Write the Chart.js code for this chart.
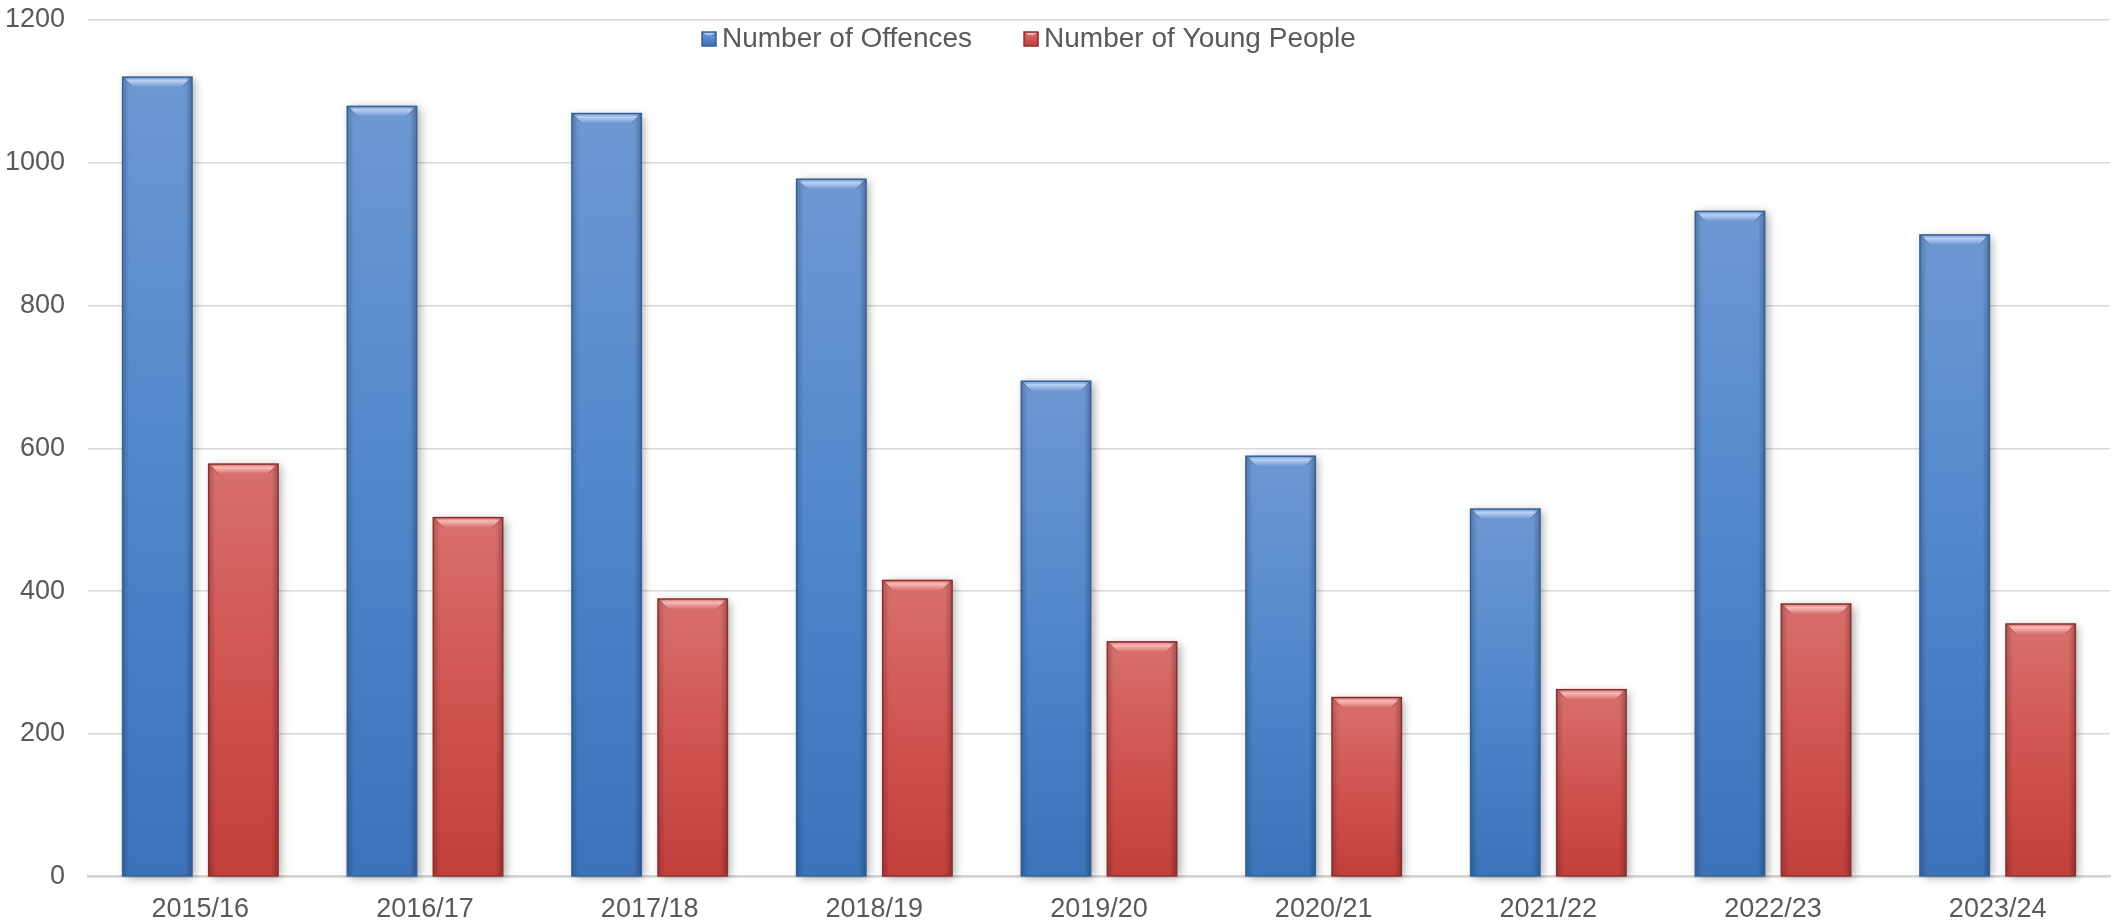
<!DOCTYPE html>
<html>
<head>
<meta charset="utf-8">
<script src="https://cdn.jsdelivr.net/npm/chart.js@4.4.1/dist/chart.umd.min.js"></script>
<style>
  html, body { margin: 0; padding: 0; background: #fff; }
  canvas { display: block; }
</style>
</head>
<body>
<canvas id="offenceChart" width="2121" height="924"></canvas>
<script>
/* Data */
const years = ['2015/16', '2016/17', '2017/18', '2018/19', '2019/20', '2020/21', '2021/22', '2022/23', '2023/24'];
const offences = [1120, 1079, 1069, 977, 694, 589, 515, 932, 899];
const youngPeople = [578, 503, 389, 415, 329, 251, 262, 382, 354];
const yTicks = [0, 200, 400, 600, 800, 1000, 1200];

const FONT = '"Liberation Sans", Arial, sans-serif';
const TEXT = '#595959';

// colours: [top, middle, bottom, bevel light, edge, bevel dark]
const blue = ['#6d98d2', '#5087cb', '#3c72b9', '#b8d0f3', '#35619a', '#4f7cbb'];
const red = ['#d8706d', '#d05451', '#c13f3c', '#f7bab7', '#8e2f2d', '#b94f4c'];

// vertical gradient for each bar, worked out from the y scale
function barFill(cols) {
    return (ctx) => {
        const chart = ctx.chart;
        if (!chart.chartArea || ctx.raw == null) return cols[1];
        const ys = chart.scales.y;
        const top = ys.getPixelForValue(ctx.raw);
        const bottom = ys.getPixelForValue(0);
        const g = chart.ctx.createLinearGradient(0, top, 0, bottom);
        g.addColorStop(0, cols[0]);
        g.addColorStop(0.5, cols[1]);
        g.addColorStop(1, cols[2]);
        return g;
    };
}

function bevelBox(c, l, t, w, h, cols, b) {
    let g = c.createLinearGradient(0, t, 0, t + b);
    g.addColorStop(0, cols[0]);
    g.addColorStop(0.35, cols[3]);
    g.addColorStop(1, cols[0]);
    c.fillStyle = g;
    c.beginPath();
    c.moveTo(l, t);
    c.lineTo(l + w, t);
    c.lineTo(l + w - b, t + b);
    c.lineTo(l + b, t + b);
    c.closePath();
    c.fill();
    // corner creases
    c.strokeStyle = cols[5];
    c.lineWidth = 1;
    c.beginPath();
    c.moveTo(l, t); c.lineTo(l + b, t + b);
    c.moveTo(l + w, t); c.lineTo(l + w - b, t + b);
    c.stroke();
    // darker side faces
    g = c.createLinearGradient(l, 0, l + w, 0);
    g.addColorStop(0, 'rgba(0,0,0,0.20)');
    g.addColorStop(0.1, 'rgba(0,0,0,0)');
    g.addColorStop(0.9, 'rgba(0,0,0,0)');
    g.addColorStop(1, 'rgba(0,0,0,0.25)');
    c.fillStyle = g;
    c.fillRect(l, t, w, h);
    c.strokeStyle = cols[4];
    c.lineWidth = 1.5;
    c.strokeRect(l, t, w, h);
}

/* Shadows, bevels and outline on top of the library's bars */
const barLook = {
    id: 'barLook',
    beforeDatasetsDraw(chart) {
        const c = chart.ctx;
        c.save();
        c.shadowColor = 'rgba(0,0,0,0.35)';
        c.shadowBlur = 9;
        c.shadowOffsetX = 3;
        c.shadowOffsetY = 2;
        c.fillStyle = '#fff';
        chart.data.datasets.forEach((ds, i) => {
            chart.getDatasetMeta(i).data.forEach(el => {
                c.fillRect(el.x - el.width / 2, el.y, el.width, el.base - el.y);
            });
        });
        c.restore();
    },
    afterDatasetsDraw(chart) {
        const c = chart.ctx;
        c.save();
        chart.data.datasets.forEach((ds, i) => {
            const cols = i === 0 ? blue : red;
            chart.getDatasetMeta(i).data.forEach(el => {
                bevelBox(c, el.x - el.width / 2, el.y, el.width, el.base - el.y, cols, 10);
            });
        });
        c.restore();
    }
};

/* Legend drawn inside the plot, top centre */
const insideLegend = {
    id: 'insideLegend',
    afterDraw(chart) {
        const c = chart.ctx;
        c.save();
        c.font = '28px ' + FONT;
        c.textBaseline = 'middle';
        let x = 702;
        const y = 39;
        chart.data.datasets.forEach((ds, i) => {
            const cols = i === 0 ? blue : red;
            const g = c.createLinearGradient(0, y - 7, 0, y + 7);
            g.addColorStop(0, cols[0]);
            g.addColorStop(1, cols[2]);
            c.fillStyle = g;
            c.fillRect(x, y - 7, 14, 14);
            bevelBox(c, x, y - 7, 14, 14, cols, 4);
            c.fillStyle = TEXT;
            c.fillText(ds.label, x + 20, y);
            x += 20 + c.measureText(ds.label).width + 52;
        });
        c.restore();
    }
};

new Chart('offenceChart', {
    type: 'bar',
    data: {
        labels: years,
        datasets: [
            {
                label: 'Number of Offences',
                data: offences,
                backgroundColor: barFill(blue),
                borderWidth: 0,
                categoryPercentage: 0.766,
                barPercentage: 0.807
            },
            {
                label: 'Number of Young People',
                data: youngPeople,
                backgroundColor: barFill(red),
                borderWidth: 0,
                categoryPercentage: 0.766,
                barPercentage: 0.807
            }
        ]
    },
    options: {
        responsive: false,
        animation: false,
        devicePixelRatio: 1,
        events: [],
        layout: { padding: { top: 20, right: 11, left: 0, bottom: 0 } },
        scales: {
            x: {
                grid: { display: false },
                border: { display: true, color: '#d4d4d4', width: 2.5 },
                ticks: { color: TEXT, font: { family: FONT, size: 27 }, padding: 9 },
                afterFit: (axis) => { axis.height = 47.3; }
            },
            y: {
                min: 0,
                max: 1200,
                afterBuildTicks: (axis) => { axis.ticks = yTicks.map(v => ({ value: v })); },
                grid: { color: '#d9d9d9', lineWidth: 1.5, drawTicks: false },
                border: { display: false },
                ticks: {
                    color: TEXT,
                    font: { family: FONT, size: 27 },
                    padding: 23,
                    callback: (v) => String(v)
                },
                afterFit: (axis) => {
                    axis.width = 88;
                    axis.paddingTop = 0;
                    axis.paddingBottom = 0;
                }
            }
        },
        plugins: {
            legend: { display: false },
            tooltip: { enabled: false }
        }
    },
    plugins: [barLook, insideLegend]
});
</script>
</body>
</html>
